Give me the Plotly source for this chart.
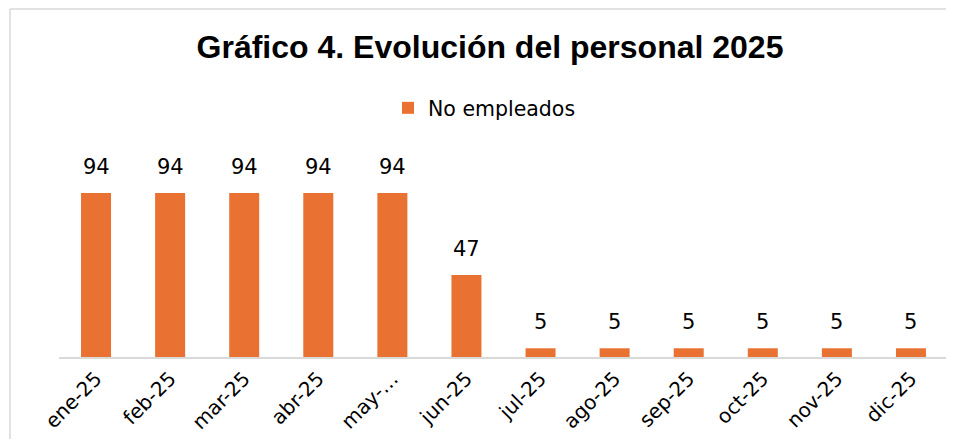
import plotly.graph_objects as go

# data
meses = ["ene-25", "feb-25", "mar-25", "abr-25", "may-25", "jun-25",
         "jul-25", "ago-25", "sep-25", "oct-25", "nov-25", "dic-25"]
etiquetas = ["ene-25", "feb-25", "mar-25", "abr-25", "may-…", "jun-25",
             "jul-25", "ago-25", "sep-25", "oct-25", "nov-25", "dic-25"]
no_empleados = [94, 94, 94, 94, 94, 47, 5, 5, 5, 5, 5, 5]

NARANJA = "#E97132"
# page body has an 8px margin; keep the figure inside the window (no scrollbars)
W, H = 938, 431
ML, MR, MT, MB = 51, 0, 132, 82
plot_w = W - ML - MR
plot_h = H - MT - MB
CAT_PX = 889 / 12  # width of one category slot in the reference
PX_PER_UNIT = 1.745

fig = go.Figure()

fig.add_trace(
    go.Bar(
        x=meses,
        y=no_empleados,
        name="No empleados",
        marker=dict(color=NARANJA, line=dict(width=0)),
        cliponaxis=False,
    )
)

# data labels above the bars
for mes, val in zip(meses, no_empleados):
    fig.add_annotation(
        x=mes, y=val,
        text=str(val),
        showarrow=False,
        yanchor="middle",
        yshift=26,
        font=dict(family="DejaVu Sans", size=21, color="#000000"),
    )

# light frame of the chart: only the left and top edges fall inside the window
frame = dict(color="#D9D9D9", width=1.5)
fx0 = (2 - ML) / plot_w
fy1 = (MT + plot_h - 1) / plot_h
fig.add_shape(type="line", xref="paper", yref="paper",
              x0=fx0, x1=fx0, y0=(MT + plot_h - H - 5) / plot_h, y1=fy1,
              line=frame, layer="below")
fig.add_shape(type="line", xref="paper", yref="paper",
              x0=fx0, x1=(W + 5 - ML) / plot_w, y0=fy1, y1=fy1,
              line=frame, layer="below")

fig.update_layout(
    width=W,
    height=H,
    margin=dict(l=ML, r=MR, t=MT, b=MB),
    paper_bgcolor="white",
    plot_bgcolor="white",
    bargap=0.595,
    showlegend=True,
    title=dict(
        text="<b>Gráfico 4. Evolución del personal 2025</b>",
        font=dict(family="Liberation Sans", size=32, color="#000000"),
        x=482 / W, xanchor="center", xref="container",
        y=1 - 39 / H, yanchor="middle", yref="container",
    ),
    legend=dict(
        orientation="h",
        x=(380 - ML) / plot_w, xanchor="left",
        y=1 - 100 / H, yanchor="middle", yref="container",
        font=dict(family="DejaVu Sans", size=20.5, color="#000000"),
        itemwidth=30,
    ),
    xaxis=dict(
        tickmode="array",
        tickvals=meses,
        ticktext=etiquetas,
        tickangle=-45,
        tickfont=dict(family="DejaVu Sans", size=20, color="#000000"),
        range=[-0.5, -0.5 + plot_w / CAT_PX],
        showline=True,
        linecolor="#D9D9D9",
        linewidth=2,
        showgrid=False,
        ticks="",
        fixedrange=True,
    ),
    yaxis=dict(
        range=[0, plot_h / PX_PER_UNIT],
        visible=False,
        showgrid=False,
        zeroline=False,
        fixedrange=True,
    ),
)

fig.write_html("out.html", config={"displayModeBar": False})
